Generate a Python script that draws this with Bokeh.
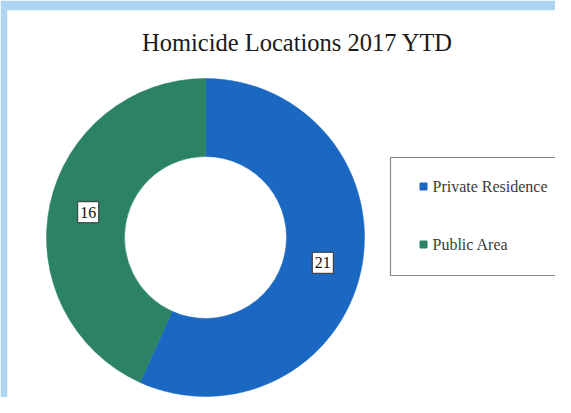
import numpy as np
from bokeh.plotting import figure
from bokeh.models import Range1d, ColumnDataSource
from bokeh.core.properties import value
from bokeh.embed import file_html
from bokeh.resources import INLINE

title_text = "Homicide Locations 2017 YTD"
categories = ["Private Residence", "Public Area"]
counts = [21, 16]
colors = ["#1b68c2", "#2b8364"]

W, H = 555, 397
p = figure(width=W, height=H, output_backend="svg", toolbar_location=None,
           x_range=Range1d(7, W), y_range=Range1d(0, H - 10),
           min_border_left=7, min_border_top=10, min_border_right=0, min_border_bottom=0,
           outline_line_color=None)
p.axis.visible = False
p.grid.visible = False
p.background_fill_color = "white"
p.border_fill_color = "#aed6f2"

cx, cy = 205, 160
r_out, r_in = 159, 81

vals = np.array(counts, dtype=float)
frac = vals / vals.sum()
ends = np.pi / 2 - np.cumsum(frac) * 2 * np.pi
starts = np.concatenate([[np.pi / 2], ends[:-1]])
mids = (starts + ends) / 2
r_mid = (r_out + r_in) / 2

src = ColumnDataSource(dict(start=starts, end=ends, color=colors,
                            cat=categories, lab=[str(c) for c in counts],
                            lx=cx + r_mid * np.cos(mids), ly=cy + r_mid * np.sin(mids)))
p.annular_wedge(x=cx, y=cy, inner_radius=r_in, outer_radius=r_out,
                start_angle="start", end_angle="end", direction="clock",
                fill_color="color", line_color="color", line_width=0.5, source=src)

# data labels
p.rect(x="lx", y="ly", width=21, height=21, width_units="screen", height_units="screen",
       fill_color="white", line_color="#333333", line_width=1, source=src)
p.text(x="lx", y="ly", text="lab", text_align="center", text_baseline="middle",
       text_font=value("Liberation Serif"), text_font_size="16px", text_color="#111111",
       source=src)

# title
p.text(x=[297], y=[355], text=[title_text], text_align="center", text_baseline="alphabetic",
       text_font=value("Liberation Serif"), text_font_size="24.5px", text_color="#1a1a1a")

# legend box
p.quad(left=[390], right=[585], bottom=[122], top=[240], fill_color="white",
       line_color="#8a8a8a", line_width=1.2)
leg_y = [211 - i * 58 for i in range(len(categories))]
p.scatter(x=[423] * len(categories), y=leg_y, marker="square", size=7,
          fill_color=colors, line_color=colors)
p.text(x=[432] * len(categories), y=leg_y, text=categories, text_align="left",
       text_baseline="middle", text_font=value("Liberation Serif"), text_font_size="16px",
       text_color="#3a3a3a")

open("out.html", "w").write(file_html(p, INLINE))
